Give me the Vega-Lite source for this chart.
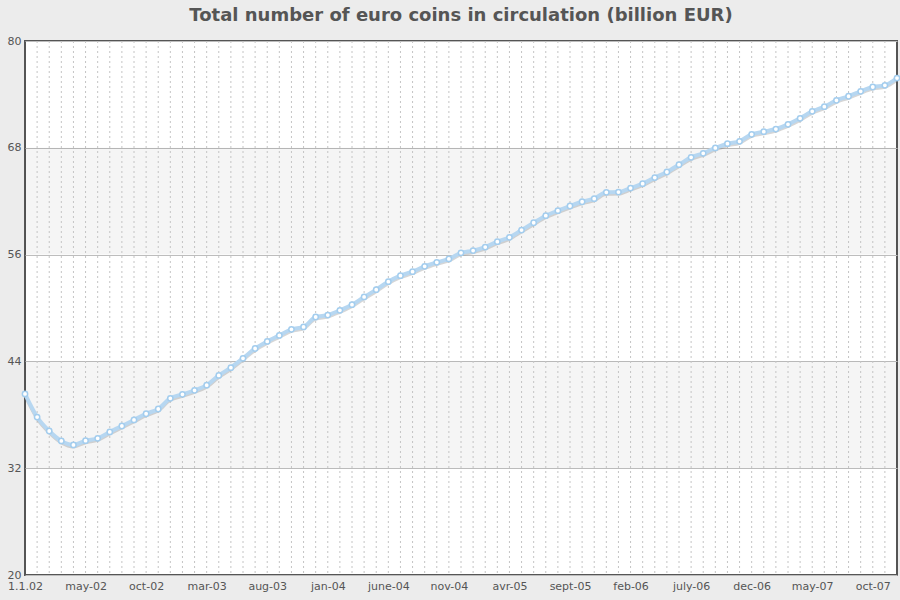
{
  "$schema": "https://vega.github.io/schema/vega-lite/v6.json",
  "autosize": "none",
  "width": 872,
  "height": 534,
  "padding": {"left": 25, "top": 41, "right": 3, "bottom": 25},
  "background": "#ececec",
  "title": {"text": "Total number of euro coins in circulation (billion EUR)", "font": "DejaVu Sans", "fontSize": 18, "fontWeight": "bold", "color": "#555555", "offset": 10, "anchor": "middle"},
  "config": {
    "view": {"stroke": "#555555", "strokeWidth": 2, "fill": "#ffffff"},
    "axis": {"labelFont": "DejaVu Sans", "labelFontSize": 11, "labelColor": "#555555", "domain": false, "ticks": false, "title": null}
  },
  "datasets": {
    "coins": [
      {"month": "1.1.02", "value": 40.34}, {"month": "jan-02", "value": 37.75}, {"month": "feb-02", "value": 36.18},
      {"month": "mar-02", "value": 35.06}, {"month": "apr-02", "value": 34.61}, {"month": "may-02", "value": 35.09},
      {"month": "jun-02", "value": 35.36}, {"month": "jul-02", "value": 36.07}, {"month": "aug-02", "value": 36.74},
      {"month": "sep-02", "value": 37.42}, {"month": "oct-02", "value": 38.12}, {"month": "nov-02", "value": 38.65},
      {"month": "dec-02", "value": 39.85}, {"month": "jan-03", "value": 40.30}, {"month": "feb-03", "value": 40.75},
      {"month": "mar-03", "value": 41.33}, {"month": "apr-03", "value": 42.42}, {"month": "may-03", "value": 43.30},
      {"month": "jun-03", "value": 44.35}, {"month": "jul-03", "value": 45.45}, {"month": "aug-03", "value": 46.25},
      {"month": "sep-03", "value": 46.92}, {"month": "oct-03", "value": 47.60}, {"month": "nov-03", "value": 47.87},
      {"month": "dec-03", "value": 48.99}, {"month": "jan-04", "value": 49.21}, {"month": "feb-04", "value": 49.74},
      {"month": "mar-04", "value": 50.37}, {"month": "apr-04", "value": 51.24}, {"month": "may-04", "value": 52.06},
      {"month": "june-04", "value": 52.96}, {"month": "jul-04", "value": 53.63}, {"month": "aug-04", "value": 54.08},
      {"month": "sep-04", "value": 54.68}, {"month": "oct-04", "value": 55.13}, {"month": "nov-04", "value": 55.51},
      {"month": "dec-04", "value": 56.20}, {"month": "jan-05", "value": 56.45}, {"month": "feb-05", "value": 56.85},
      {"month": "mar-05", "value": 57.45}, {"month": "avr-05", "value": 57.94}, {"month": "may-05", "value": 58.76},
      {"month": "jun-05", "value": 59.58}, {"month": "jul-05", "value": 60.37}, {"month": "aug-05", "value": 60.94},
      {"month": "sept-05", "value": 61.46}, {"month": "oct-05", "value": 61.94}, {"month": "nov-05", "value": 62.28},
      {"month": "dec-05", "value": 63.00}, {"month": "jan-06", "value": 63.03}, {"month": "feb-06", "value": 63.48},
      {"month": "mar-06", "value": 63.97}, {"month": "apr-06", "value": 64.65}, {"month": "may-06", "value": 65.28},
      {"month": "jun-06", "value": 66.10}, {"month": "july-06", "value": 66.93}, {"month": "aug-06", "value": 67.38},
      {"month": "sep-06", "value": 67.98}, {"month": "oct-06", "value": 68.46}, {"month": "nov-06", "value": 68.73},
      {"month": "dec-06", "value": 69.52}, {"month": "jan-07", "value": 69.81}, {"month": "feb-07", "value": 70.11},
      {"month": "mar-07", "value": 70.64}, {"month": "apr-07", "value": 71.31}, {"month": "may-07", "value": 72.10},
      {"month": "jun-07", "value": 72.62}, {"month": "jul-07", "value": 73.34}, {"month": "aug-07", "value": 73.79},
      {"month": "sep-07", "value": 74.35}, {"month": "oct-07", "value": 74.83}, {"month": "nov-07", "value": 75.02},
      {"month": "dec-07", "value": 75.84}
    ],
    "bands": [{"lo": 32, "hi": 44}, {"lo": 56, "hi": 68}]
  },
  "layer": [
    {
      "data": {"name": "bands"},
      "mark": {"type": "rect", "fill": "#000000", "opacity": 0.04},
      "encoding": {
        "y": {"field": "lo", "type": "quantitative", "scale": {"domain": [20, 80]}},
        "y2": {"field": "hi"}
      }
    },
    {
      "data": {"name": "coins"},
      "encoding": {
        "x": {"field": "month", "type": "ordinal", "sort": null,
          "scale": {"type": "point", "padding": 0},
          "axis": {"labelAngle": 0, "labelOverlap": false, "labelPadding": 5, "grid": false,
            "values": ["1.1.02","may-02","oct-02","mar-03","aug-03","jan-04","june-04","nov-04","avr-05","sept-05","feb-06","july-06","dec-06","may-07","oct-07"]}},
        "y": {"field": "value", "type": "quantitative",
          "scale": {"domain": [20, 80], "nice": false, "zero": false},
          "axis": {"values": [20, 32, 44, 56, 68, 80], "grid": true, "gridColor": "#bdbdbd", "gridWidth": 1, "labelPadding": 4}}
      },
      "layer": [
        {"mark": {"type": "rule", "color": "#c4c4c4", "strokeDash": [2, 3], "strokeWidth": 1},
         "encoding": {"y": {"value": 0}, "y2": {"value": 534},
           "strokeOpacity": {"condition": {"test": "datum.month == '1.1.02' || datum.month == 'dec-07'", "value": 0}, "value": 1}}},
        {"mark": {"type": "line", "interpolate": "monotone", "color": "#777777", "opacity": 0.3, "strokeWidth": 3, "yOffset": 2}},
        {"mark": {"type": "line", "interpolate": "monotone", "color": "#b7d7f1", "strokeWidth": 4}},
        {"mark": {"type": "point", "filled": true, "fill": "#ffffff", "stroke": "#a3cdee", "strokeWidth": 1.5, "size": 28, "opacity": 1}}
      ]
    }
  ]
}
